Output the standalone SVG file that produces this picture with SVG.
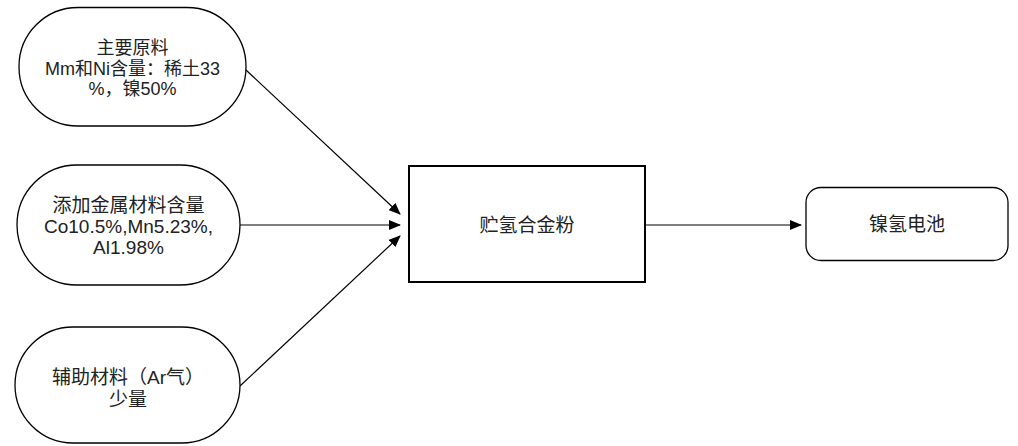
<svg xmlns="http://www.w3.org/2000/svg" width="1018" height="446" viewBox="0 0 1018 446">
<style>
.n{fill:#fff;stroke:#000;stroke-width:1.3}
.b{fill:#fff;stroke:#000;stroke-width:2}
.t{font-family:"Liberation Sans","Noto Sans CJK SC",sans-serif;font-size:19px;fill:#222;text-anchor:middle}
.s{font-size:18px}
.e{stroke:#000;stroke-width:1.2;fill:none}
</style>
<defs>
<marker id="a" markerWidth="12" markerHeight="10" refX="11" refY="5" orient="auto" markerUnits="userSpaceOnUse">
<path d="M0,0 L12,5 L0,10 Z" fill="#000"/>
</marker>
</defs>
<rect width="1018" height="446" fill="#fff"/>
<g id="connectors">
<line class="e" x1="246" y1="70" x2="400" y2="214" marker-end="url(#a)"/>
<line class="e" x1="240" y1="225" x2="400" y2="225" marker-end="url(#a)"/>
<line class="e" x1="240" y1="386" x2="400" y2="236" marker-end="url(#a)"/>
<line class="e" x1="645" y1="225" x2="801" y2="225" marker-end="url(#a)"/>
</g>
<g id="node1">
<rect class="n" x="19" y="7.5" width="227" height="118.5" rx="59" ry="59"/>
<text class="t s" x="132.5" y="54">主要原料</text>
<text class="t s" x="132.5" y="75">Mm和Ni含量：稀土33</text>
<text class="t s" x="132.5" y="95">%，镍50%</text>
</g>
<g id="node2">
<rect class="n" x="17" y="165" width="223" height="120" rx="60" ry="60"/>
<text class="t" x="128.5" y="212">添加金属材料含量</text>
<text class="t" x="128.5" y="233">Co10.5%,Mn5.23%,</text>
<text class="t" x="128.5" y="254">Al1.98%</text>
</g>
<g id="node3">
<rect class="n" x="15" y="327" width="225" height="116" rx="58" ry="58"/>
<text class="t" x="128" y="384">辅助材料（Ar气）</text>
<text class="t" x="128" y="406">少量</text>
</g>
<g id="node4">
<rect class="b" x="409" y="166" width="236" height="116"/>
<text class="t" x="527" y="232">贮氢合金粉</text>
</g>
<g id="node5">
<rect class="n" x="806" y="187.5" width="202" height="73" rx="15" ry="15"/>
<text class="t" x="907" y="231">镍氢电池</text>
</g>
</svg>
